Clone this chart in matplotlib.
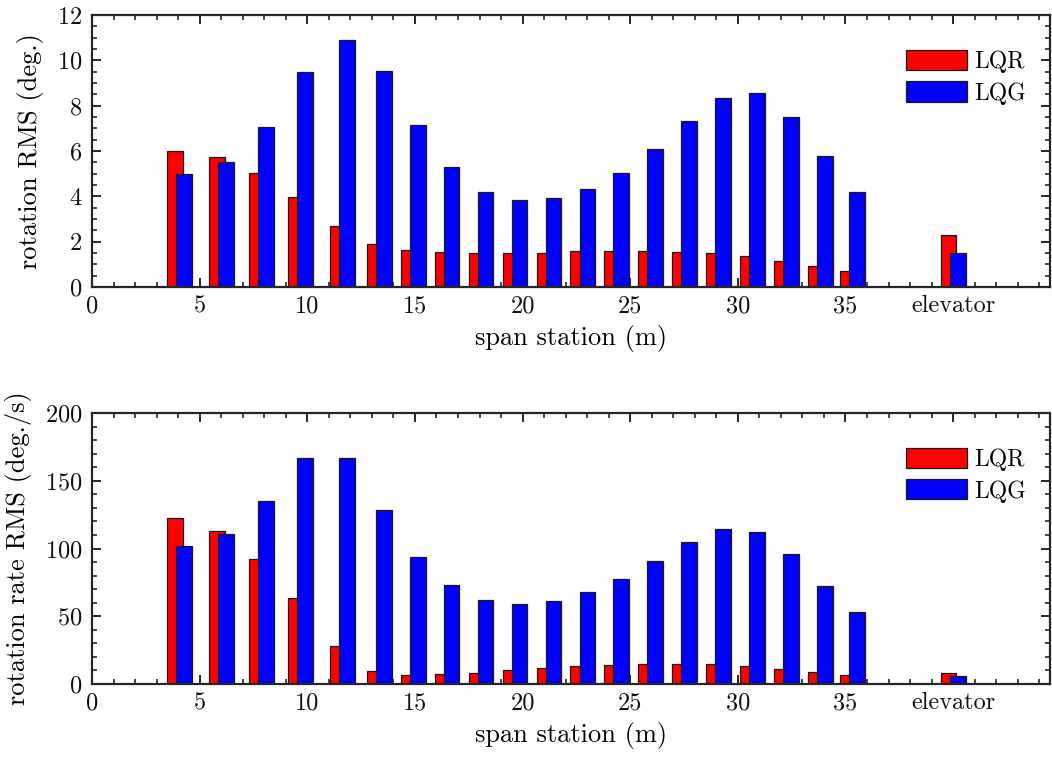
import matplotlib
matplotlib.use("Agg")
import matplotlib.pyplot as plt
import numpy as np

# span stations (m) and the elevator position on the x axis
stations = [4.08, 6.01, 7.86, 9.70, 11.65, 13.35, 14.93, 16.49, 18.07, 19.65,
            21.23, 22.80, 24.36, 25.93, 27.51, 29.09, 30.67, 32.25, 33.83, 35.32]
elevator_pos = 40.0

# rotation RMS (deg.)
rot_lqr = [6.01, 5.73, 5.01, 3.95, 2.67, 1.90, 1.65, 1.53, 1.50, 1.50,
           1.52, 1.58, 1.61, 1.59, 1.55, 1.49, 1.37, 1.16, 0.93, 0.69]
rot_lqg = [4.99, 5.52, 7.04, 9.47, 10.90, 9.51, 7.16, 5.29, 4.21, 3.84,
           3.92, 4.33, 5.05, 6.08, 7.32, 8.35, 8.54, 7.51, 5.76, 4.18]
rot_elev_lqr = 2.31
rot_elev_lqg = 1.52

# rotation rate RMS (deg./s)
rate_lqr = [122.2, 112.6, 92.3, 63.1, 28.2, 9.3, 6.4, 7.1, 8.3, 10.1,
            11.6, 13.25, 14.2, 15.0, 15.0, 14.5, 13.5, 11.0, 8.6, 6.4]
rate_lqg = [102.1, 110.7, 134.7, 166.9, 167.1, 128.1, 93.7, 73.4, 62.3, 59.4,
            61.3, 67.7, 77.5, 90.5, 104.5, 114.6, 112.1, 95.9, 72.6, 53.3]
rate_elev_lqr = 7.9
rate_elev_lqg = 6.1

xtick_vals = [0, 5, 10, 15, 20, 25, 30, 35, 40]
xtick_labels = ["0", "5", "10", "15", "20", "25", "30", "35", "elevator"]
series_names = ["LQR", "LQG"]

plt.rcParams["font.family"] = "cmr10"
plt.rcParams["mathtext.fontset"] = "cm"
plt.rcParams["axes.formatter.use_mathtext"] = True

FS_TICK = 17.5
FS_LAB = 19
FS_LEG = 17
W, H = 1052, 760
fig = plt.figure(figsize=(W / 100, H / 100), dpi=100)

def axes_px(left, top, right, bottom):
    return fig.add_axes([left / W, 1 - bottom / H, (right - left) / W, (bottom - top) / H])

ax1 = axes_px(92, 15, 1050, 287)
ax2 = axes_px(92, 413, 1050, 684)

spine_col = "#262626"
bw = 0.73
off = 0.21

def draw(ax, lqr, lqg, elev_lqr, elev_lqg, ylim, ymajor, yminor, ylabel):
    xs = np.array(stations + [elevator_pos])
    r = list(lqr) + [elev_lqr]
    g = list(lqg) + [elev_lqg]
    ax.bar(xs - off, r, width=bw, color="#ff0000", edgecolor="#1a1a1a", linewidth=0.9,
           label=series_names[0], zorder=2)
    ax.bar(xs + off, g, width=bw, color="#0000ff", edgecolor="#1a1a1a", linewidth=0.9,
           label=series_names[1], zorder=3)
    ax.set_xlim(0, 44.5)
    ax.set_ylim(*ylim)
    ax.set_xticks(xtick_vals)
    ax.set_xticklabels(xtick_labels)
    ax.set_xticks(np.arange(0, 45, 1), minor=True)
    ax.set_yticks(np.arange(ylim[0], ylim[1] + 1e-9, ymajor))
    ax.set_yticks(np.arange(ylim[0], ylim[1] + 1e-9, yminor), minor=True)
    ax.tick_params(which="both", direction="in", top=True, right=True,
                   color=spine_col, labelsize=FS_TICK, labelcolor="#111111")
    ax.tick_params(which="major", length=6.5, width=1.4)
    ax.tick_params(which="minor", length=3.3, width=1.2)
    ax.tick_params(axis="x", which="major", pad=6)
    ax.tick_params(axis="y", which="major", pad=7)
    for s in ax.spines.values():
        s.set_linewidth(1.6)
        s.set_color(spine_col)
        s.set_zorder(5)
    ax.set_xlabel("span station (m)", fontsize=FS_LAB, labelpad=5.5)
    ax.set_ylabel(ylabel, fontsize=FS_LAB, labelpad=9)
    ax.legend(loc="upper right", bbox_to_anchor=(0.985, 0.905), frameon=False,
              fontsize=FS_LEG, handlelength=2.62, handleheight=0.93,
              labelspacing=0.34, handletextpad=0.3, borderaxespad=0.0)

draw(ax1, rot_lqr, rot_lqg, rot_elev_lqr, rot_elev_lqg, (0, 12), 2, 0.5,
     "rotation RMS (deg.)")
draw(ax2, rate_lqr, rate_lqg, rate_elev_lqr, rate_elev_lqg, (0, 200), 50, 10,
     "rotation rate RMS (deg./s)")

fig.savefig("out.png", dpi=100)
